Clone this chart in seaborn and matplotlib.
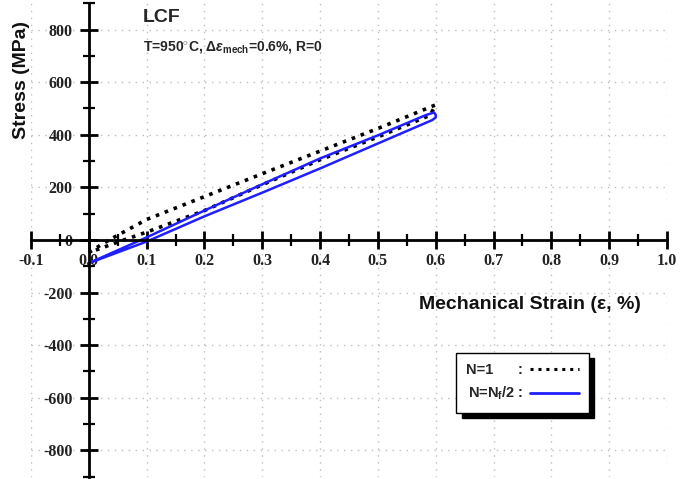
import numpy as np
import pandas as pd
import matplotlib
matplotlib.use("Agg")
import matplotlib.pyplot as plt
from matplotlib.lines import Line2D
from matplotlib.ticker import MultipleLocator, FixedLocator
import seaborn as sns

# ---- data ----
n1_load_strain = [0.0, 0.02, 0.035, 0.1, 0.2, 0.3, 0.4, 0.5, 0.6]
n1_load_stress = [-48, -20, 0, 78, 165, 252, 338, 424, 514]
n1_unload_strain = [0.6, 0.59, 0.5, 0.4, 0.3, 0.2, 0.1, 0.05, 0.0]
n1_unload_stress = [514, 474, 392, 305, 210, 112, 30, -8, -48]

nh_upper_strain = [0.0, 0.1, 0.2, 0.3, 0.4, 0.5, 0.583, 0.597, 0.6]
nh_upper_stress = [-88, 10, 112, 212, 310, 398, 475, 485, 476]
nh_lower_strain = [0.6, 0.594, 0.5, 0.4, 0.3, 0.2, 0.1, 0.0]
nh_lower_stress = [466, 456, 367, 272, 180, 90, -6, -88]

x_ticks = [-0.1, 0.0, 0.1, 0.2, 0.3, 0.4, 0.5, 0.6, 0.7, 0.8, 0.9, 1.0]
y_ticks = [-800, -600, -400, -200, 0, 200, 400, 600, 800]

df1 = pd.DataFrame({"strain": n1_load_strain + n1_unload_strain,
                    "stress": n1_load_stress + n1_unload_stress})
df2 = pd.DataFrame({"strain": nh_upper_strain + nh_lower_strain,
                    "stress": nh_upper_stress + nh_lower_stress})

sns.set_theme(style="white")
plt.rcParams["font.family"] = ["Liberation Sans", "DejaVu Sans"]
plt.rcParams["mathtext.fontset"] = "custom"
plt.rcParams["mathtext.rm"] = "Liberation Sans:bold"
plt.rcParams["mathtext.it"] = "Liberation Sans:italic:bold"
plt.rcParams["mathtext.bf"] = "Liberation Sans:bold"

fig = plt.figure(figsize=(6.99, 4.79), dpi=100)
ax = fig.add_axes([31 / 699, 1 - 476.7 / 479, 636 / 699, 473.4 / 479])

sns.lineplot(data=df1, x="strain", y="stress", sort=False, estimator=None,
             color="black", linestyle=":", linewidth=2.6, ax=ax)
sns.lineplot(data=df2, x="strain", y="stress", sort=False, estimator=None,
             color="#1f1fff", linewidth=1.8, ax=ax)

ax.set_xlim(-0.1, 1.0)
ax.set_ylim(-900, 900)

for s in ["top", "right"]:
    ax.spines[s].set_visible(False)
ax.spines["left"].set_position(("data", 0))
ax.spines["bottom"].set_position(("data", 0))
for s in ["left", "bottom"]:
    ax.spines[s].set_linewidth(2)
    ax.spines[s].set_color("black")

ax.xaxis.set_major_locator(FixedLocator(x_ticks))
ax.yaxis.set_major_locator(FixedLocator(y_ticks))
ax.xaxis.set_minor_locator(MultipleLocator(0.05))
ax.yaxis.set_minor_locator(MultipleLocator(100))
ax.set_xticklabels([f"{v:.1f}" for v in x_ticks])
ax.set_yticklabels([str(v) for v in y_ticks])
ax.tick_params(which="both", bottom=True, left=True, top=False, right=False)
ax.tick_params(which="major", direction="inout", length=13, width=2, color="black")
ax.tick_params(which="minor", direction="inout", length=8, width=1.6, color="black")
ax.tick_params(axis="x", which="major", pad=3)
ax.tick_params(axis="y", which="major", pad=5)
for lab in ax.get_xticklabels() + ax.get_yticklabels():
    lab.set_fontfamily("Liberation Serif")
    lab.set_fontweight("bold")
    lab.set_fontsize(11.5)
    lab.set_color("#222222")

ax.grid(True, which="major", linestyle=(0, (1, 4)), color="#bdbdbd", linewidth=1.0)
ax.set_axisbelow(True)

ax.set_xlabel("Mechanical Strain (ε, %)", fontsize=14, fontweight="bold", color="#111111")
ax.set_ylabel("Stress (MPa)", fontsize=14, fontweight="bold", color="#111111")
ax.xaxis.set_label_coords(0.785, 0.382)
ax.yaxis.set_label_coords(-0.002, 0.838)

fig.text(143 / 699, 1 - 17 / 479, "LCF", fontsize=14, fontweight="bold", va="center", ha="left")
fig.text(143 / 699, 1 - 48 / 479,
         r"T=950$^{\circ}$C, $\Delta\epsilon_{\mathrm{mech}}$=0.6%, R=0",
         fontsize=10, fontweight="bold", va="center", ha="left")

handles = [Line2D([], [], color="black", linestyle=(0, (1, 1.6)), linewidth=2.2),
           Line2D([], [], color="#1f1fff", linewidth=2.0)]
leg = ax.legend(handles, ["N=1      :", r"N=N$_\mathrm{f}$/2 :"],
                loc="upper left", bbox_to_anchor=((456 - 31) / 636, (476.7 - 352.7) / 473.4),
                markerfirst=False, frameon=True, fancybox=False,
                shadow={"color": "black", "alpha": 1, "ox": 4, "oy": -4},
                prop={"weight": "bold", "size": 10.5}, handlelength=3.3,
                handletextpad=0.5, borderpad=0.7, labelspacing=0.55, borderaxespad=0)
leg.get_frame().set_edgecolor("black")
leg.get_frame().set_linewidth(1.0)
fig.savefig("out.png", dpi=100)
